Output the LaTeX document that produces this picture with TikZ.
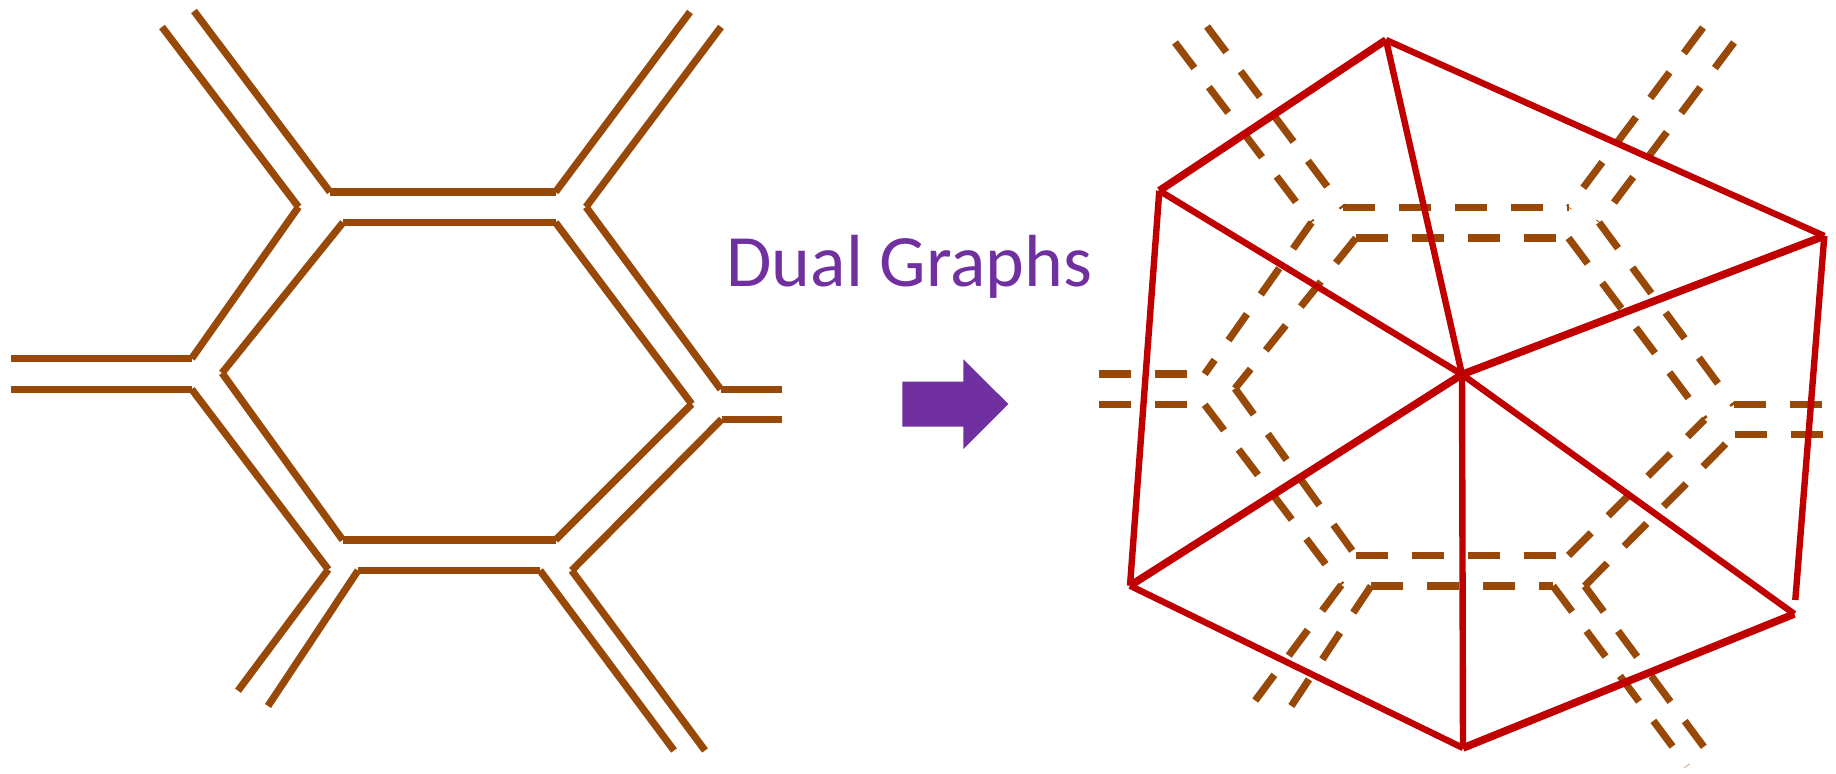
\documentclass[tikz,border=0pt]{standalone}
\usepackage{fontspec}
\setmainfont{Carlito}
\definecolor{brn}{HTML}{984807}
\definecolor{dred}{HTML}{C00000}
\definecolor{dpurple}{HTML}{7030A0}
% ribbon points: #1 prefix, #2 x of left legs start, #3 x of right legs end
\newcommand\ribbonpts[3]{%
  \coordinate (#1a1) at (162,27);
  \coordinate (#1a2) at (298.5,207);
  \coordinate (#1b1) at (194,11);
  \coordinate (#1b2) at (330,192);
  \coordinate (#1c2) at (555.5,192);
  \coordinate (#1d1) at (690,12);
  \coordinate (#1e1) at (721,27);
  \coordinate (#1e2) at (586,207);
  \coordinate (#1f1) at (343,222.5);
  \coordinate (#1f2) at (555.5,222.5);
  \coordinate (#1g2) at (191.7,358.5);
  \coordinate (#1h2) at (222,373);
  \coordinate (#1i1) at (#2,358.5);
  \coordinate (#1j1) at (#2,389.3);
  \coordinate (#1j2) at (191.7,389.3);
  \coordinate (#1k2) at (328.3,569.5);
  \coordinate (#1l2) at (342.7,540);
  \coordinate (#1m2) at (555.5,540);
  \coordinate (#1n1) at (358,570.5);
  \coordinate (#1n2) at (540,570.5);
  \coordinate (#1o2) at (238,690.7);
  \coordinate (#1p2) at (268,706);
  \coordinate (#1q2) at (674,750.5);
  \coordinate (#1r1) at (571.7,570.5);
  \coordinate (#1r2) at (705,750.5);
  \coordinate (#1s2) at (691.7,404);
  \coordinate (#1t2) at (721.7,419.3);
  \coordinate (#1u1) at (720.7,389.3);
  \coordinate (#1u2) at (#3,389.3);
  \coordinate (#1v2) at (#3,419.3);
}
% ribbon segments: #1 prefix, #2 style
\newcommand\ribbonsegs[2]{%
  \foreach \s/\e in {a1/a2,b1/b2,b2/c2,d1/c2,e1/e2,f1/f2,a2/g2,f1/h2,i1/g2,
    j1/j2,j2/k2,h2/l2,l2/m2,n1/n2,k2/o2,n1/p2,n2/q2,r1/r2,m2/s2,r1/t2,
    u1/u2,t2/v2,f2/s2,e2/u1}
    {\path[#2] (#1\s) -- (#1\e);}
}
\begin{document}
\begin{tikzpicture}[x=0.01cm,y=-0.01cm,
  rib/.style={draw=brn,line width=0.072cm},
  dashrib/.style={draw=brn,line width=0.072cm,dash pattern=on 0.32cm off 0.24cm},
  dualedge/.style={draw=dred,line width=0.064cm},
  dualthick/.style={draw=dred,line width=0.076cm},
  title/.style={text=dpurple,font=\fontsize{21}{25}\selectfont,inner sep=0pt,anchor=base}]
\useasboundingbox (0,0) rectangle (1836,774);

% left ribbon graph
\ribbonpts{L}{10.7}{781.7}
\ribbonsegs{L}{rib}

% title and block arrow
\node[title] (lbl) at (909.5,286.7) {Dual Graphs};
\fill[dpurple] (902.3,381.7) -- (963.3,381.7) -- (963.3,359.3) -- (1008.3,404)
  -- (963.3,449) -- (963.3,426.7) -- (902.3,426.7) -- cycle;

% right dashed ribbon graph
\begin{scope}[shift={(1013,15.5)}]
  \ribbonpts{R}{86}{810}
\end{scope}
\ribbonsegs{R}{dashrib}

% dual graph
\coordinate (vT) at (1386,40);
\coordinate (vUL) at (1159.3,190.7);
\coordinate (vR) at (1824.3,236);
\coordinate (vC) at (1462,374.5);
\coordinate (vLL) at (1130,585.7);
\coordinate (vB) at (1463,748);
\coordinate (vLR) at (1794.3,614);
\coordinate (vRe) at (1795.3,600);
\draw[dualthick] (vUL) -- (vT);
\draw[dualedge] (vT) -- (vR);
\draw[dualedge] (vT) -- (vC);
\draw[dualedge] (vUL) -- (vC);
\draw[dualedge] (vUL) -- (vLL);
\draw[dualthick] (vC) -- (vR);
\draw[dualedge] (vR) -- (vRe);
\draw[dualthick] (vC) -- (vLL);
\draw[dualedge] (vC) -- (vB);
\draw[dualedge] (vC) -- (vLR);
\draw[dualedge] (vLL) -- (vB);
\draw[dualthick] (vB) -- (vLR);
\end{tikzpicture}
\end{document}
